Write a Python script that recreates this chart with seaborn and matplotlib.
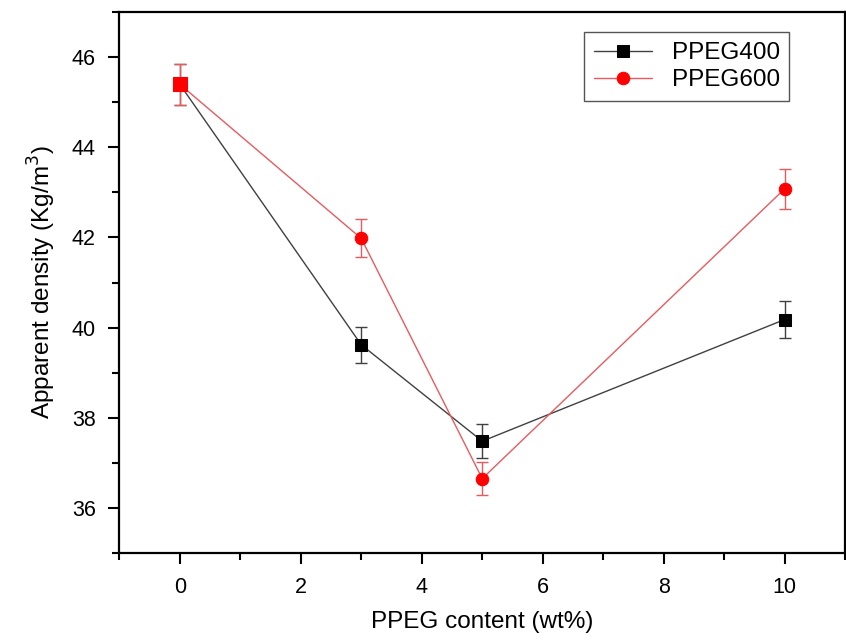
import pandas as pd
import matplotlib.pyplot as plt
import seaborn as sns
from matplotlib.ticker import MultipleLocator

# --- data ---
content = [0, 3, 5, 10]
ppeg400 = [45.40, 39.62, 37.48, 40.18]
ppeg400_err = [0.45, 0.40, 0.38, 0.40]
ppeg600 = [45.40, 41.98, 36.65, 43.08]
ppeg600_err = [0.46, 0.42, 0.37, 0.44]
series_names = ['PPEG400', 'PPEG600']

df = pd.DataFrame({
    'content': content * 2,
    'density': ppeg400 + ppeg600,
    'err': ppeg400_err + ppeg600_err,
    'series': [series_names[0]] * 4 + [series_names[1]] * 4,
})

sns.set_style('ticks', {'axes.edgecolor': 'black', 'text.color': 'black',
                        'xtick.color': 'black', 'ytick.color': 'black',
                        'axes.labelcolor': 'black'})
plt.rcParams['font.family'] = ['Liberation Sans', 'DejaVu Sans']

fig, ax = plt.subplots(figsize=(8.46, 6.4), dpi=100)

colors = {'PPEG400': '#404040', 'PPEG600': '#e85a5e'}
mcolors = {'PPEG400': 'black', 'PPEG600': 'red'}
markers = {'PPEG400': 's', 'PPEG600': 'o'}

for name in series_names:
    sub = df[df['series'] == name]
    ax.errorbar(sub['content'], sub['density'], yerr=sub['err'], fmt='none',
                ecolor=colors[name], elinewidth=1, capsize=4, capthick=1, zorder=2)
    sns.lineplot(data=sub, x='content', y='density', ax=ax, color=colors[name],
                 linewidth=1, marker=markers[name], markersize=9,
                 markerfacecolor=mcolors[name], markeredgecolor=mcolors[name],
                 label=name, zorder=3)

# shared control point (0 wt%) drawn as a red square on top
ctrl = df[df['content'] == 0].iloc[[0]]
sns.scatterplot(data=ctrl, x='content', y='density', ax=ax, marker='s', s=95,
                color='red', edgecolor='red', zorder=4, legend=False)

ax.set_xlim(-1, 11)
ax.set_ylim(35, 47)
ax.xaxis.set_major_locator(MultipleLocator(2))
ax.xaxis.set_minor_locator(MultipleLocator(1))
ax.yaxis.set_major_locator(MultipleLocator(2))
ax.yaxis.set_minor_locator(MultipleLocator(1))
ax.tick_params(which='major', direction='out', length=8, width=1.5, labelsize=15.5, pad=9)
ax.tick_params(which='minor', direction='out', length=5, width=1.5)
ax.tick_params(top=False, right=False, which='both')
for s in ax.spines.values():
    s.set_linewidth(1.6)

ax.set_xlabel('PPEG content (wt%)', fontsize=17.5, labelpad=10)
ax.set_ylabel('Apparent density (Kg/m$^3$)', fontsize=17.5, labelpad=10)

leg = ax.legend(loc='upper right', fontsize=17.5, fancybox=False, frameon=True,
                edgecolor='#555555', framealpha=1, handlelength=2.4,
                bbox_to_anchor=(0.94, 0.985), borderpad=0.4, labelspacing=0.2)
leg.get_frame().set_linewidth(1)

fig.subplots_adjust(left=0.141, right=0.999, top=0.981, bottom=0.136)
fig.savefig('out.png', dpi=100)
